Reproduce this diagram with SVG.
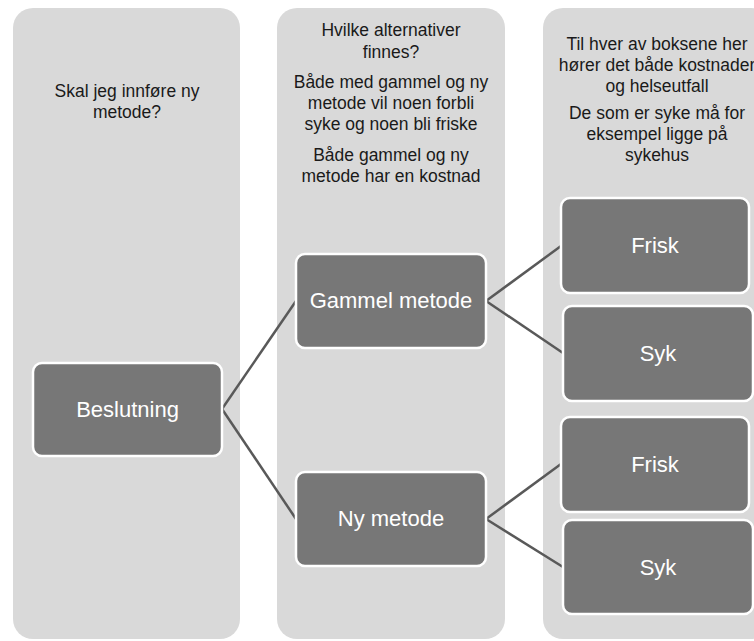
<svg xmlns="http://www.w3.org/2000/svg" width="754" height="641" viewBox="0 0 754 641">
<style>
.col{fill:#d9d9d9}
.node{fill:#777777;stroke:#ffffff;stroke-width:2.5}
.ct{font-family:"Liberation Sans",Arial,sans-serif;font-size:17.5px;fill:#1a1a1a;text-anchor:middle}
.nt{font-family:"Liberation Sans",Arial,sans-serif;font-size:22px;fill:#ffffff;text-anchor:middle}
.conn{stroke:#595959;stroke-width:2.5;fill:none}
</style>
<rect width="754" height="641" fill="#ffffff"/>
<g id="col1"><rect class="col" x="13" y="8" width="227" height="631" rx="20"/>
<text class="ct" x="127" y="97">Skal jeg innføre ny</text>
<text class="ct" x="127" y="118">metode?</text></g>
<g id="col2"><rect class="col" x="277" y="8" width="228" height="631" rx="20"/>
<text class="ct" x="391" y="36">Hvilke alternativer</text>
<text class="ct" x="391" y="58">finnes?</text>
<text class="ct" x="391" y="88">Både med gammel og ny</text>
<text class="ct" x="391" y="109">metode vil noen forbli</text>
<text class="ct" x="391" y="130">syke og noen bli friske</text>
<text class="ct" x="391" y="161">Både gammel og ny</text>
<text class="ct" x="391" y="182">metode har en kostnad</text></g>
<g id="col3"><rect class="col" x="543" y="8" width="228" height="631" rx="20"/>
<text class="ct" x="657" y="50">Til hver av boksene her</text>
<text class="ct" x="657" y="71">hører det både kostnader</text>
<text class="ct" x="657" y="92">og helseutfall</text>
<text class="ct" x="657" y="119">De som er syke må for</text>
<text class="ct" x="657" y="140">eksempel ligge på</text>
<text class="ct" x="657" y="161">sykehus</text></g>
<g id="connectors">
<line class="conn" x1="222" y1="409" x2="296" y2="301"/>
<line class="conn" x1="222" y1="409" x2="296" y2="519"/>
<line class="conn" x1="486" y1="301" x2="561" y2="246"/>
<line class="conn" x1="486" y1="301" x2="563" y2="353"/>
<line class="conn" x1="486" y1="519" x2="561" y2="464"/>
<line class="conn" x1="486" y1="519" x2="563" y2="567"/>
</g>
<g id="beslutning"><rect class="node" x="33" y="363" width="189" height="93" rx="9"/><text class="nt" x="127.5" y="417">Beslutning</text></g>
<g id="gammel"><rect class="node" x="296" y="254" width="190" height="94" rx="9"/><text class="nt" x="391" y="308">Gammel metode</text></g>
<g id="ny"><rect class="node" x="296" y="472" width="190" height="94" rx="9"/><text class="nt" x="391" y="526">Ny metode</text></g>
<g id="frisk1"><rect class="node" x="561" y="198" width="188" height="95" rx="9"/><text class="nt" x="655" y="253">Frisk</text></g>
<g id="syk1"><rect class="node" x="563" y="306" width="190" height="95" rx="9"/><text class="nt" x="658" y="361">Syk</text></g>
<g id="frisk2"><rect class="node" x="561" y="417" width="188" height="95" rx="9"/><text class="nt" x="655" y="472">Frisk</text></g>
<g id="syk2"><rect class="node" x="563" y="520" width="190" height="94" rx="9"/><text class="nt" x="658" y="575">Syk</text></g>
</svg>
